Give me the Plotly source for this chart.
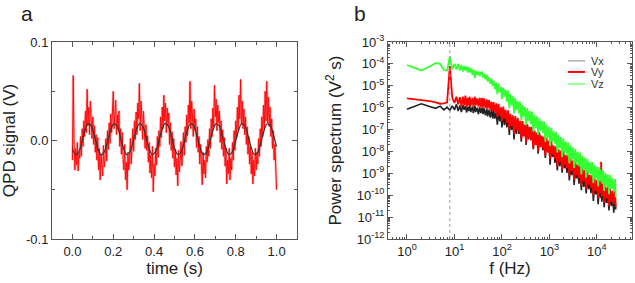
import plotly.graph_objects as go

# ---------------- panel a : QPD signal vs time ----------------
time_step_s = 0.004          # sampling interval of the raw trace
fit_step_s = 0.015625        # sampling interval of the fitted curve

qpd_signal_v = [
    -0.020, 0.066, -0.005, -0.030, -0.008, -0.025, -0.002, -0.031, -0.012, -0.018,
    0.004, -0.016, 0.012, -0.006, 0.020, 0.004, 0.030, 0.008, 0.052, 0.015,
    0.034, 0.006, 0.040, 0.021, 0.002, 0.024, -0.004, 0.015, -0.012, 0.006,
    -0.020, 0.003, -0.030, -0.008, -0.040, -0.014, -0.026, -0.036, -0.005, -0.027,
    -0.018, 0.002, -0.021, 0.010, -0.009, 0.018, -0.003, 0.027, 0.008, 0.035,
    0.050, 0.012, 0.030, 0.041, 0.006, 0.026, 0.011, 0.030, -0.006, 0.012,
    -0.014, 0.008, -0.018, -0.030, -0.004, -0.040, -0.022, -0.050, -0.012, -0.030,
    -0.020, 0.002, -0.024, -0.006, 0.012, -0.011, 0.020, 0.001, 0.029, 0.006,
    0.038, 0.022, 0.058, 0.010, 0.040, 0.024, 0.001, 0.030, 0.014, -0.008,
    0.016, -0.010, 0.005, -0.022, -0.002, -0.033, -0.015, -0.038, -0.006, -0.052,
    -0.024, -0.036, -0.008, -0.025, 0.004, -0.017, 0.010, -0.006, 0.024, 0.003,
    0.034, 0.012, 0.046, 0.020, 0.038, 0.008, 0.033, 0.015, 0.028, -0.004,
    0.018, -0.010, 0.009, -0.018, 0.002, -0.027, -0.009, -0.035, -0.018, -0.046,
    -0.010, -0.032, -0.020, -0.001, -0.026, -0.012, 0.008, -0.015, 0.014, -0.002,
    0.026, 0.005, 0.036, 0.018, 0.060, 0.012, 0.040, 0.026, 0.004, 0.032,
    0.010, 0.022, -0.007, 0.014, -0.012, 0.004, -0.024, -0.004, -0.030, -0.045,
    -0.012, -0.034, -0.020, -0.038, -0.006, -0.022, 0.001, -0.016, 0.012, -0.008,
    0.022, 0.004, 0.033, 0.014, 0.056, 0.024, 0.042, 0.010, 0.036, 0.018,
    0.030, -0.002, 0.020, -0.009, 0.011, -0.016, 0.003, -0.026, -0.008, -0.044,
    -0.020, -0.034, -0.008, -0.040, -0.018, -0.030, -0.002, -0.020, 0.010, -0.010,
    0.020, 0.002, 0.034, 0.010, 0.046, 0.022, 0.062, 0.016, 0.040, 0.012,
    0.032, 0.006, 0.024, -0.004, 0.014, -0.014, 0.004, -0.024, -0.006, -0.034,
    -0.012, -0.044, -0.020, -0.036, -0.008, -0.030, -0.012, -0.024, 0.002, -0.016,
    0.012, -0.006, 0.024, 0.004, 0.036, 0.012, 0.050, 0.020, 0.060, 0.018,
    0.044, 0.014, 0.034, 0.004, 0.022, -0.008, 0.010, -0.020, -0.004, -0.034,
    -0.050,
]

qpd_fit_v = [
    -0.0083, -0.0145, -0.0114, -0.0008, 0.0110, 0.0172, 0.0142, 0.0038,
    -0.0081, -0.0144, -0.0115, -0.0011, 0.0108, 0.0172, 0.0144, 0.0041,
    -0.0078, -0.0144, -0.0117, -0.0014, 0.0105, 0.0171, 0.0146, 0.0044,
    -0.0076, -0.0143, -0.0119, -0.0018, 0.0102, 0.0171, 0.0148, 0.0047,
    -0.0073, -0.0142, -0.0121, -0.0021, 0.0100, 0.0170, 0.0150, 0.0050,
    -0.0070, -0.0142, -0.0122, -0.0024, 0.0097, 0.0169, 0.0151, 0.0053,
    -0.0068, -0.0141, -0.0124, -0.0027, 0.0094, 0.0168, 0.0153, 0.0056,
    -0.0065, -0.0140, -0.0126, -0.0030, 0.0092, 0.0168, 0.0154, 0.0059,
    -0.0062,
]

# ---------------- panel b : power spectra ----------------
freq_hz = [
    1, 2, 3, 4, 5, 6, 7, 8, 9, 10,
    11, 12, 13, 14, 15, 16, 17, 18, 19, 20,
    21, 22, 24, 25, 27, 28, 30, 32, 34, 36,
    38, 40, 42, 45, 48, 50, 53, 57, 60, 64,
    67, 71, 76, 80, 85, 90, 96, 100, 107, 113,
    120, 127, 135, 143, 151, 160, 170, 180, 191, 202,
    215, 228, 241, 256, 271, 287, 305, 323, 342, 363,
    385, 408, 432, 458, 486, 515, 546, 578, 613, 650,
    689, 730, 774, 820, 870, 922, 977, 1036, 1098, 1164,
    1234, 1308, 1386, 1469, 1557, 1651, 1750, 1855, 1966, 2084,
    2209, 2342, 2482, 2631, 2789, 2956, 3134, 3322, 3521, 3732,
    3956, 4194, 4445, 4712, 4995, 5294, 5612, 5949, 6306, 6684,
    7085, 7510, 7961, 8438, 8945, 9481, 10050, 10653, 11292, 11970,
    12300, 12688, 13449, 14256, 15111, 16018, 16979, 17998, 19078, 20223,
    21436, 22722, 24085, 25000,
]

# values, stored as log10(V^2 s)
vx_log10 = [
    -6.07, -5.82, -5.95, -6.03, -5.93, -6.10, -5.98, -6.12, -5.92, -6.10,
    -5.85, -6.15, -5.90, -6.20, -5.88, -6.10, -5.92, -6.22, -5.95, -6.15,
    -5.90, -6.20, -5.95, -6.25, -5.92, -6.20, -6.00, -6.30, -5.98, -6.25,
    -6.00, -6.30, -6.02, -6.35, -6.05, -6.40, -6.10, -6.45, -6.08, -6.50,
    -6.12, -6.50, -6.20, -6.78, -6.15, -6.62, -6.35, -6.90, -6.28, -6.80,
    -6.32, -6.90, -6.35, -7.25, -6.45, -7.02, -6.52, -7.45, -6.58, -7.20,
    -6.53, -7.20, -6.70, -7.55, -6.65, -7.30, -6.80, -7.70, -6.77, -7.45,
    -6.90, -7.45, -6.87, -7.90, -7.05, -7.60, -7.15, -8.10, -7.13, -7.75,
    -7.35, -7.95, -7.33, -8.30, -7.53, -8.00, -7.65, -8.60, -7.63, -8.25,
    -7.84, -8.52, -8.02, -8.87, -7.94, -8.67, -8.17, -8.97, -8.14, -8.77,
    -8.40, -8.98, -8.36, -9.33, -8.58, -9.08, -8.56, -9.53, -8.73, -9.23,
    -8.84, -9.47, -8.97, -9.77, -8.94, -9.62, -9.12, -9.92, -9.10, -9.72,
    -9.34, -9.91, -9.31, -10.26, -9.48, -9.96, -9.56, -10.41, -9.54, -10.11,
    -9.75, -10.30, -9.70, -10.55, -9.85, -10.35, -9.82, -10.70, -9.92, -10.50,
    -10.03, -10.80, -10.07, -10.65,
]

vy_log10 = [
    -5.58, -5.64, -5.70, -5.76, -5.82, -5.80, -5.76, -4.10, -5.55, -5.78,
    -5.50, -5.85, -5.52, -5.95, -5.50, -5.90, -5.45, -5.95, -5.55, -5.90,
    -5.50, -5.92, -5.55, -5.95, -5.50, -5.90, -5.58, -5.95, -5.55, -5.98,
    -5.55, -6.00, -5.58, -6.02, -5.62, -6.05, -5.65, -6.10, -5.72, -6.15,
    -5.75, -6.20, -5.80, -6.42, -5.82, -6.35, -5.98, -6.62, -5.95, -6.50,
    -6.10, -6.70, -6.12, -7.00, -6.28, -6.85, -6.35, -7.20, -6.38, -7.00,
    -6.47, -7.10, -6.60, -7.45, -6.61, -7.30, -6.77, -7.60, -6.75, -7.40,
    -6.88, -7.50, -6.92, -7.85, -7.08, -7.70, -7.15, -8.00, -7.18, -7.82,
    -7.27, -7.85, -7.33, -8.20, -7.37, -8.05, -7.50, -8.35, -7.53, -8.15,
    -7.73, -8.33, -7.76, -8.68, -7.90, -8.48, -7.96, -8.83, -7.98, -8.63,
    -8.15, -8.75, -8.18, -9.10, -8.32, -8.90, -8.42, -9.30, -8.42, -9.10,
    -8.60, -9.22, -8.62, -9.57, -8.77, -9.37, -8.84, -9.72, -8.90, -9.52,
    -9.07, -9.65, -9.08, -10.00, -9.23, -9.80, -9.30, -10.15, -9.33, -9.90,
    -8.47, -10.05, -9.48, -10.35, -9.60, -10.15, -9.60, -10.50, -9.72, -10.30,
    -9.80, -10.40, -9.82, -10.55,
]

vz_log10 = [
    -4.05, -4.30, -4.12, -3.97, -4.00, -4.28, -4.30, -3.67, -4.25, -4.00,
    -4.25, -4.00, -4.30, -4.05, -4.35, -4.10, -4.30, -4.12, -4.38, -4.15,
    -4.40, -4.20, -4.50, -4.25, -4.65, -4.30, -4.50, -4.35, -4.55, -4.40,
    -4.38, -4.62, -4.45, -4.70, -4.50, -4.80, -4.60, -4.90, -4.68, -5.00,
    -4.78, -5.15, -4.85, -5.38, -4.90, -5.30, -5.05, -5.60, -5.08, -5.50,
    -5.18, -5.72, -5.22, -6.02, -5.38, -5.88, -5.48, -6.25, -5.55, -6.10,
    -5.70, -6.25, -5.72, -6.58, -5.88, -6.40, -5.98, -6.80, -6.02, -6.60,
    -6.16, -6.75, -6.18, -7.10, -6.33, -6.92, -6.40, -7.25, -6.48, -7.05,
    -6.60, -7.15, -6.62, -7.55, -6.78, -7.35, -6.88, -7.75, -6.92, -7.55,
    -7.08, -7.65, -7.10, -8.05, -7.25, -7.85, -7.35, -8.25, -7.40, -8.05,
    -7.55, -8.15, -7.58, -8.55, -7.72, -8.35, -7.82, -8.75, -7.88, -8.55,
    -8.02, -8.65, -8.05, -9.05, -8.20, -8.82, -8.28, -9.20, -8.32, -8.98,
    -8.48, -9.05, -8.48, -9.45, -8.62, -9.22, -8.70, -9.60, -8.72, -9.35,
    -8.85, -9.45, -8.86, -9.80, -8.98, -9.58, -9.05, -9.95, -9.08, -9.72,
    -9.22, -9.80, -9.26, -10.10,
]

series_names = ["Vx", "Vy", "Vz"]
series_colors = ["#222222", "#ff0000", "#33ff33"]
series_widths = [1.6, 1.8, 1.8]
trap_freq_hz = 8  # dashed marker line

for name, arr in zip(series_names, (vx_log10, vy_log10, vz_log10)):
    if len(arr) != len(freq_hz):
        raise ValueError(f"{name}: {len(arr)} values vs {len(freq_hz)} freqs")

vx_psd = [10 ** v for v in vx_log10]
vy_psd = [10 ** v for v in vy_log10]
vz_psd = [10 ** v for v in vz_log10]

FONT = "Liberation Sans, Arial, sans-serif"
AX = "#555555"
TXT = "#222222"

fig = go.Figure()

# light halo + core of the raw trace
fig.add_trace(go.Scatter(
    x0=0, dx=time_step_s, y=qpd_signal_v, mode="lines",
    line=dict(color="rgba(255,60,60,0.35)", width=2.6),
    xaxis="x", yaxis="y", showlegend=False, hoverinfo="skip"))
fig.add_trace(go.Scatter(
    x0=0, dx=time_step_s, y=qpd_signal_v, mode="lines",
    line=dict(color="#ff0a0a", width=1.0),
    xaxis="x", yaxis="y", showlegend=False, hoverinfo="skip"))
fig.add_trace(go.Scatter(
    x0=0, dx=fit_step_s, y=qpd_fit_v, mode="lines",
    line=dict(color="#333333", width=1.2, shape="spline"),
    xaxis="x", yaxis="y", showlegend=False, hoverinfo="skip"))

for name, color, vals, w in zip(series_names, series_colors,
                                (vx_psd, vy_psd, vz_psd), series_widths):
    fig.add_trace(go.Scatter(
        x=freq_hz, y=vals, mode="lines", name=name,
        line=dict(color=color, width=w), xaxis="x2", yaxis="y2",
        showlegend=False))

common = dict(showline=True, linecolor=AX, linewidth=1, mirror="ticks",
              ticks="inside", ticklen=5, tickcolor=AX, showgrid=False,
              zeroline=False, tickfont=dict(family=FONT, size=13, color=TXT),
              title_font=dict(family=FONT, size=17, color=TXT))

# hand-made legend (compact spacing like the reference)
legend_rows_y = [0.904, 0.848, 0.787]
legend_widths = [1, 2, 1]
legend_shapes = []
legend_texts = []
for name, color, ly, lw in zip(series_names, series_colors, legend_rows_y, legend_widths):
    legend_shapes.append(dict(type="line", xref="paper", yref="paper",
                              x0=0.8897, x1=0.919, y0=ly, y1=ly,
                              line=dict(color="#888888" if name == "Vx" else color, width=lw)))
    legend_texts.append(dict(text=name, xref="paper", yref="paper", x=0.925, y=ly,
                             xanchor="left", yanchor="middle", showarrow=False,
                             font=dict(family=FONT, size=11, color="#333333")))

fig.update_layout(
    width=635, height=283,
    margin=dict(l=52, r=3, t=42, b=44),
    paper_bgcolor="white", plot_bgcolor="white",
    font=dict(family=FONT, color=TXT),
    showlegend=False,
    xaxis=dict(domain=[0, 0.4224], range=[-0.1, 1.1], anchor="y",
               tickvals=[0, 0.2, 0.4, 0.6, 0.8, 1.0],
               ticktext=["0.0", "0.2", "0.4", "0.6", "0.8", "1.0"],
               minor=dict(dtick=0.1, ticks="inside", ticklen=3, tickcolor=AX),
               title=dict(text="time (s)", standoff=0), **common),
    yaxis=dict(domain=[0, 1], range=[-0.1, 0.1], anchor="x",
               tickvals=[-0.1, 0, 0.1], ticktext=["-0.1", "0.0", "0.1"],
               minor=dict(dtick=0.05, ticks="inside", ticklen=3, tickcolor=AX),
               title=dict(text="QPD signal (V)", standoff=9), **common),
    xaxis2=dict(type="log", domain=[0.5793, 1], range=[-0.4, 4.74], anchor="y2",
                tickvals=[1, 10, 100, 1000, 10000],
                ticktext=["10<sup>0</sup>", "10<sup>1</sup>", "10<sup>2</sup>",
                          "10<sup>3</sup>", "10<sup>4</sup>"],
                minor=dict(dtick="D1", ticks="inside", ticklen=2, tickcolor=AX),
                title=dict(text="f (Hz)", standoff=0), **common),
    yaxis2=dict(type="log", domain=[0, 1], range=[-12, -3], anchor="x2",
                tickvals=[10.0 ** e for e in range(-12, -2)],
                ticktext=[f"10<sup>{e}</sup>" for e in range(-12, -2)],
                minor=dict(dtick="D1", ticks="inside", ticklen=2, tickcolor=AX),
                title=dict(text="Power spectrum (V<sup>2</sup> s)", standoff=10),
                **common),
    shapes=[dict(type="line", xref="x2", yref="y2 domain",
                 x0=trap_freq_hz, x1=trap_freq_hz, y0=0, y1=1,
                 line=dict(color="#999999", width=1, dash="3px,3px"))] + legend_shapes,
    annotations=[
        dict(text="a", xref="paper", yref="paper", x=-0.043, y=1.147,
             xanchor="center", yanchor="middle",
             showarrow=False, font=dict(family=FONT, size=21, color=TXT)),
        dict(text="b", xref="paper", yref="paper", x=0.531, y=1.147,
             xanchor="center", yanchor="middle",
             showarrow=False, font=dict(family=FONT, size=21, color=TXT)),
    ] + legend_texts,
)

fig.write_html("out.html", config={"displayModeBar": False},
               post_script="document.body.style.margin='0px';")
